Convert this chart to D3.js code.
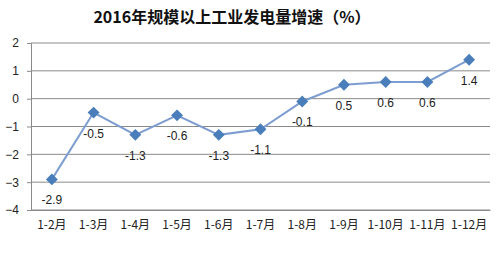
<!DOCTYPE html>
<html>
<head>
<meta charset="utf-8">
<script src="https://cdn.jsdelivr.net/npm/d3@7"></script>
<style>
  body { margin: 0; background: #fff; }
  text { font-family: "Noto Sans CJK SC", "Noto Sans", sans-serif; }
</style>
</head>
<body>
<div id="chart"></div>
<script>
// Data
const months = ["1-2月", "1-3月", "1-4月", "1-5月", "1-6月", "1-7月", "1-8月", "1-9月", "1-10月", "1-11月", "1-12月"];
const growth = [-2.9, -0.5, -1.3, -0.6, -1.3, -1.1, -0.1, 0.5, 0.6, 0.6, 1.4];
const yTicks = [2, 1, 0, -1, -2, -3, -4];
const title = "2016年规模以上工业发电量增速（%）";

const W = 496, H = 257;
const margin = { top: 43, right: 6, bottom: 47, left: 31 };
const width = W - margin.left - margin.right;
const height = H - margin.top - margin.bottom;

const svg = d3.select("#chart").append("svg")
  .attr("width", W).attr("height", H);

svg.append("text")
  .attr("x", 232).attr("y", 23)
  .attr("text-anchor", "middle")
  .style("font-size", "16px")
  .style("font-weight", "bold")
  .style("fill", "#111")
  .text(title);

const g = svg.append("g").attr("transform", `translate(${margin.left},${margin.top})`);

const x = d3.scaleBand().domain(months).range([0, width]);
const y = d3.scaleLinear().domain([-4, 2]).range([height, 0]);

// gridlines
g.append("g")
  .selectAll("line")
  .data(yTicks)
  .join("line")
  .attr("x1", 0).attr("x2", width)
  .attr("y1", d => y(d)).attr("y2", d => y(d))
  .attr("stroke", "#8a8a8a").attr("stroke-width", 1);

// y axis
const yAxis = g.append("g")
  .call(d3.axisLeft(y).tickValues(yTicks).tickFormat(d3.format("d")).tickSize(4).tickPadding(8));
yAxis.select(".domain").attr("stroke", "#8a8a8a");
yAxis.selectAll(".tick line").attr("stroke", "#8a8a8a");
yAxis.selectAll("text").style("font-size", "12px").style("fill", "#222")
  .style("font-family", "'Liberation Sans', Arial, sans-serif");

// x axis
const xAxis = g.append("g")
  .attr("transform", `translate(0,${height})`)
  .call(d3.axisBottom(x).tickSize(0).tickPadding(10));
xAxis.select(".domain").attr("stroke", "#8a8a8a");
xAxis.selectAll("text").style("font-size", "12px").style("fill", "#222");

const pts = months.map((m, i) => ({ m, v: growth[i] }));
const cx = d => x(d.m) + x.bandwidth() / 2;

g.append("path")
  .datum(pts)
  .attr("fill", "none")
  .attr("stroke", "#7d9dd0")
  .attr("stroke-width", 2)
  .attr("d", d3.line().x(cx).y(d => y(d.v)));

g.selectAll(".mk")
  .data(pts)
  .join("path")
  .attr("class", "mk")
  .attr("d", d3.symbol().type(d3.symbolDiamond2).size(90))
  .attr("transform", d => `translate(${cx(d)},${y(d.v)})`)
  .attr("fill", "#4a7ebb");

g.selectAll(".lbl")
  .data(pts)
  .join("text")
  .attr("class", "lbl")
  .attr("x", cx)
  .attr("y", d => y(d.v) + 25)
  .attr("text-anchor", "middle")
  .style("font-size", "12px")
  .style("fill", "#222")
  .style("font-family", "'Liberation Sans', Arial, sans-serif")
  .text(d => d.v);
</script>
</body>
</html>
